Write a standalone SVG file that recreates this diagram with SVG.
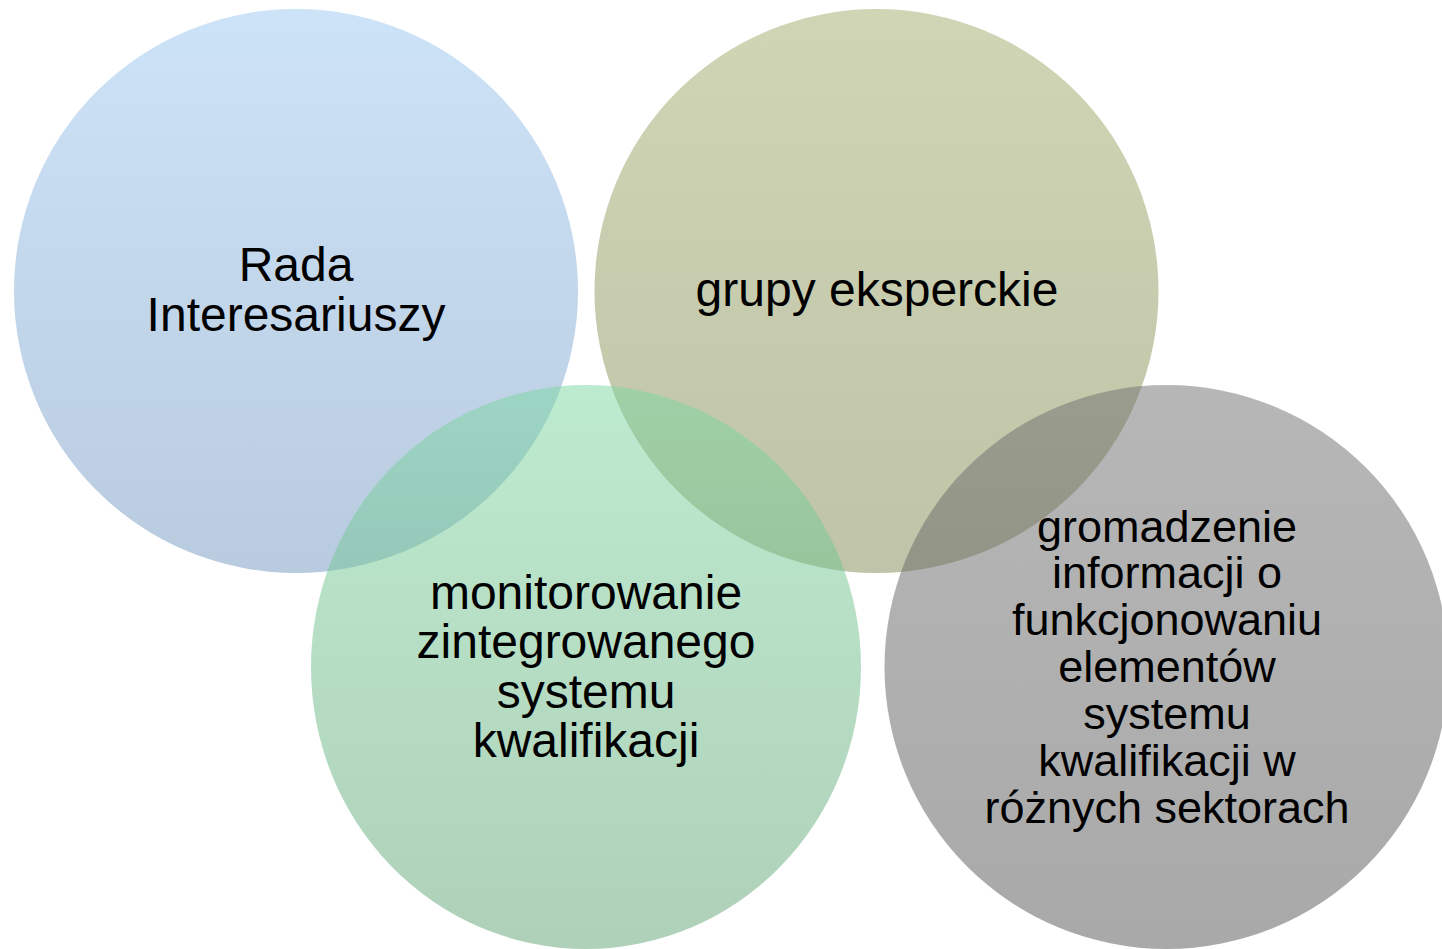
<svg xmlns="http://www.w3.org/2000/svg" width="1442" height="949" viewBox="0 0 1442 949">
<style>
.lbl{font-family:"Liberation Sans",Arial,sans-serif;fill:#000;text-anchor:middle}
.c{fill-opacity:0.5}
</style>
<defs>
<linearGradient id="gBlue" x1="0" y1="0" x2="0" y2="1"><stop offset="0" stop-color="#9bc7f1"/><stop offset="1" stop-color="#7397bf"/></linearGradient>
<linearGradient id="gOlive" x1="0" y1="0" x2="0" y2="1"><stop offset="0" stop-color="#a1ab6b"/><stop offset="1" stop-color="#818951"/></linearGradient>
<linearGradient id="gGreen" x1="0" y1="0" x2="0" y2="1"><stop offset="0" stop-color="#7bd7a1"/><stop offset="1" stop-color="#5fa173"/></linearGradient>
<linearGradient id="gGray" x1="0" y1="0" x2="0" y2="1"><stop offset="0" stop-color="#6f6f6f"/><stop offset="1" stop-color="#535353"/></linearGradient>
</defs>
<rect width="1442" height="949" fill="#fff"/>
<g id="node-rada">
<ellipse class="c" cx="296" cy="291" rx="282" ry="282" fill="url(#gBlue)"/>
</g>
<g id="node-grupy">
<ellipse class="c" cx="876.5" cy="291" rx="282" ry="282" fill="url(#gOlive)"/>
</g>
<g id="node-monitorowanie">
<ellipse class="c" cx="586" cy="667" rx="275" ry="282" fill="url(#gGreen)"/>
</g>
<g id="node-gromadzenie">
<ellipse class="c" cx="1166.5" cy="667" rx="282" ry="282" fill="url(#gGray)"/>
</g>
<g id="connectors"></g>
<g id="labels">
<text class="lbl" font-size="48"><tspan x="296" y="281">Rada</tspan><tspan x="296" y="331">Interesariuszy</tspan></text>
<text class="lbl" font-size="48" x="877" y="306">grupy eksperckie</text>
<text class="lbl" font-size="48"><tspan x="586" y="608.5">monitorowanie</tspan><tspan x="586" y="658">zintegrowanego</tspan><tspan x="586" y="707.5">systemu</tspan><tspan x="586" y="757">kwalifikacji</tspan></text>
<text class="lbl" font-size="45"><tspan x="1167" y="541.5">gromadzenie</tspan><tspan x="1167" y="588">informacji o</tspan><tspan x="1167" y="635">funkcjonowaniu</tspan><tspan x="1167" y="682">elementów</tspan><tspan x="1167" y="729">systemu</tspan><tspan x="1167" y="775.5">kwalifikacji w</tspan><tspan x="1167" y="822.5">różnych sektorach</tspan></text>
</g>
</svg>
